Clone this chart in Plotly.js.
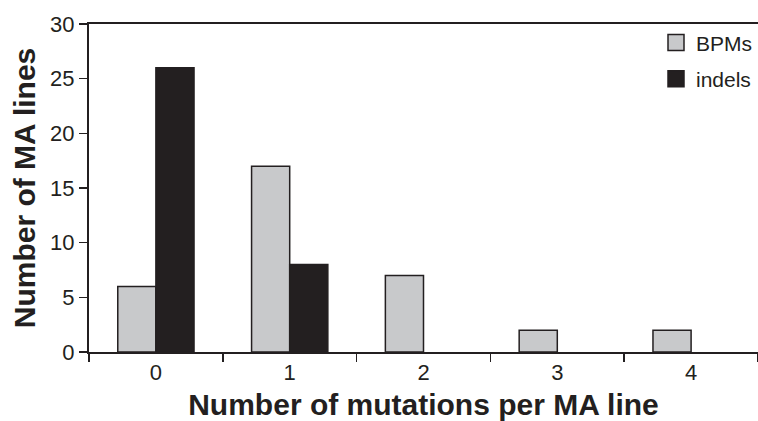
<!DOCTYPE html>
<html>
<head>
<meta charset="utf-8">
<script src="https://cdn.plot.ly/plotly-3.0.1.min.js"></script>
<style>html,body{margin:0;padding:0;background:#fff}#chart{width:758px;height:421px}</style>
</head>
<body>
<div id="chart"></div>
<script>
const categories = ["0", "1", "2", "3", "4"];
const bpms = [6, 17, 7, 2, 2];
const indels = [26, 8, 0, 0, 0];
const seriesNames = ["BPMs", "indels"];

const ink = "#231f20";
const gray = "#c8c9cb";
const font = "'Liberation Sans', Arial, Helvetica, sans-serif";
const lw = v => v.map(d => d === 0 ? 0 : 1.5);

const traces = [
  {type: "bar", name: seriesNames[0], x: categories, y: bpms, showlegend: false,
   marker: {color: gray, line: {color: ink, width: lw(bpms)}}},
  {type: "bar", name: seriesNames[1], x: categories, y: indels, showlegend: false,
   marker: {color: ink, line: {color: ink, width: lw(indels)}}},
  {type: "scatter", mode: "markers", name: seriesNames[0], x: [null], y: [null], legendgroup: "a",
   marker: {symbol: "square", size: 18, color: gray, line: {color: ink, width: 1.5}}},
  {type: "scatter", mode: "markers", name: seriesNames[1], x: [null], y: [null], legendgroup: "b",
   marker: {symbol: "square", size: 18, color: ink, line: {color: ink, width: 1.5}}}
];

const layout = {
  width: 758, height: 421,
  margin: {l: 89, r: 0, t: 24, b: 69},
  paper_bgcolor: "#fff", plot_bgcolor: "#fff",
  barmode: "group", bargap: 0.43, bargroupgap: 0,
  font: {family: font, color: ink, size: 22},
  showlegend: true,
  legend: {x: 1, xanchor: "right", y: 1.005, yanchor: "top", bgcolor: "rgba(0,0,0,0)",
           font: {size: 21, color: ink}, tracegroupgap: 6, itemwidth: 30, itemsizing: "trace"},
  xaxis: {
    type: "category", range: [-0.5, 4.5],
    showline: true, linecolor: ink, linewidth: 2, mirror: true,
    ticks: "outside", tickson: "boundaries", ticklen: 8, tickwidth: 1.5, tickcolor: ink,
    tickfont: {size: 22, color: ink},
    showgrid: false, zeroline: false,
    title: {text: "Number of mutations per MA line", font: {size: 30, color: ink, weight: "bold"}, standoff: 10}
  },
  yaxis: {
    range: [0, 30], tickvals: [0, 5, 10, 15, 20, 25, 30],
    showline: true, linecolor: ink, linewidth: 2,
    ticks: "outside", ticklen: 8, tickwidth: 1.5, tickcolor: ink,
    tickfont: {size: 22, color: ink},
    showgrid: false, zeroline: false,
    title: {text: "Number of MA lines", font: {size: 30, color: ink, weight: "bold"}, standoff: 6}
  }
};

Plotly.newPlot("chart", traces, layout, {displayModeBar: false, staticPlot: true});
</script>
</body>
</html>
